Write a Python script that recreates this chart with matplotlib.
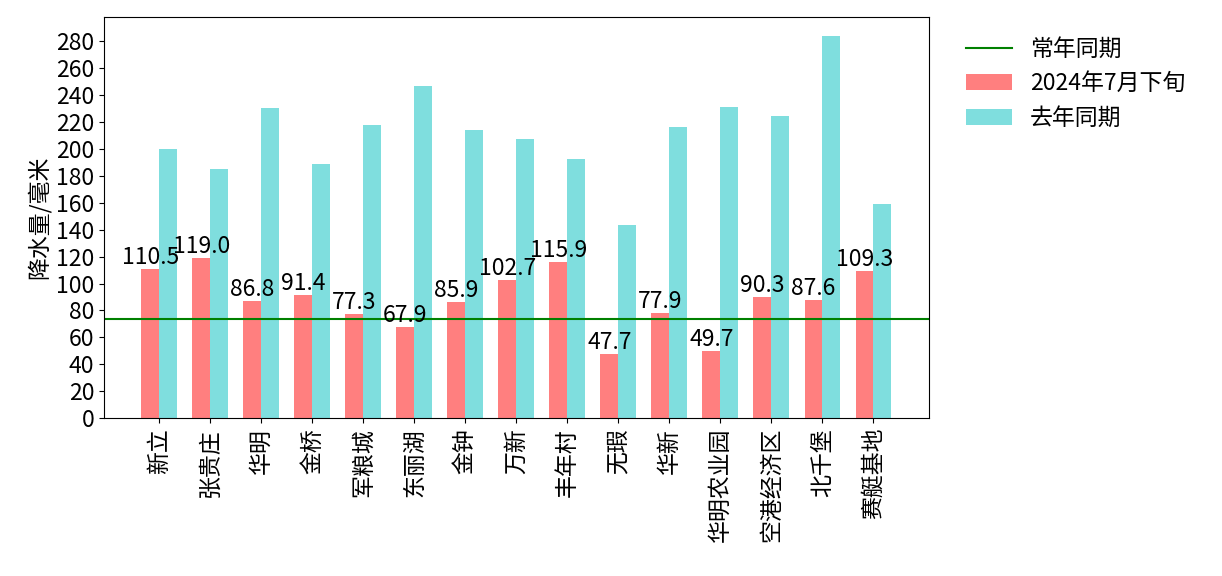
import matplotlib
matplotlib.use("Agg")
import matplotlib.pyplot as plt
import numpy as np

plt.rcParams['font.family'] = ['Noto Sans CJK SC', 'DejaVu Sans']
plt.rcParams['axes.unicode_minus'] = False
plt.rcParams['font.size'] = 16.5

zhandian = ["新立", "张贵庄", "华明", "金桥", "军粮城", "东丽湖", "金钟", "万新",
            "丰年村", "无瑕", "华新", "华明农业园", "空港经济区", "北千堡", "赛艇基地"]
jinnian = [110.5, 119.0, 86.8, 91.4, 77.3, 67.9, 85.9, 102.7,
           115.9, 47.7, 77.9, 49.7, 90.3, 87.6, 109.3]
qunian = [200, 185, 230, 188.5, 217.5, 246.6, 214, 207.3,
          192.6, 143.3, 216, 231.3, 224.4, 283.5, 159]
changnian = 73.3

x = np.arange(len(zhandian))
w = 0.35

fig = plt.figure(figsize=(12.22, 5.76), dpi=100)
ax = fig.add_axes([0.085, 0.274, 0.675, 0.696])

ax.axhline(changnian, color='g', label='常年同期')
ax.bar(x - w / 2, jinnian, w, color='red', alpha=0.5, label='2024年7月下旬')
ax.bar(x + w / 2, qunian, w, color='c', alpha=0.5, label='去年同期')

for xi, v in zip(x, jinnian):
    ax.text(xi - w / 2, v, '%.1f' % v, ha='center', va='bottom')

ax.set_xticks(x)
ax.set_xticklabels(zhandian, rotation=90)
ax.set_yticks(np.arange(0, 281, 20))
ax.set_ylabel('降水量/毫米')

ax.legend(loc='upper left', bbox_to_anchor=(1.02, 1.0), frameon=False)

fig.savefig("out.png")
